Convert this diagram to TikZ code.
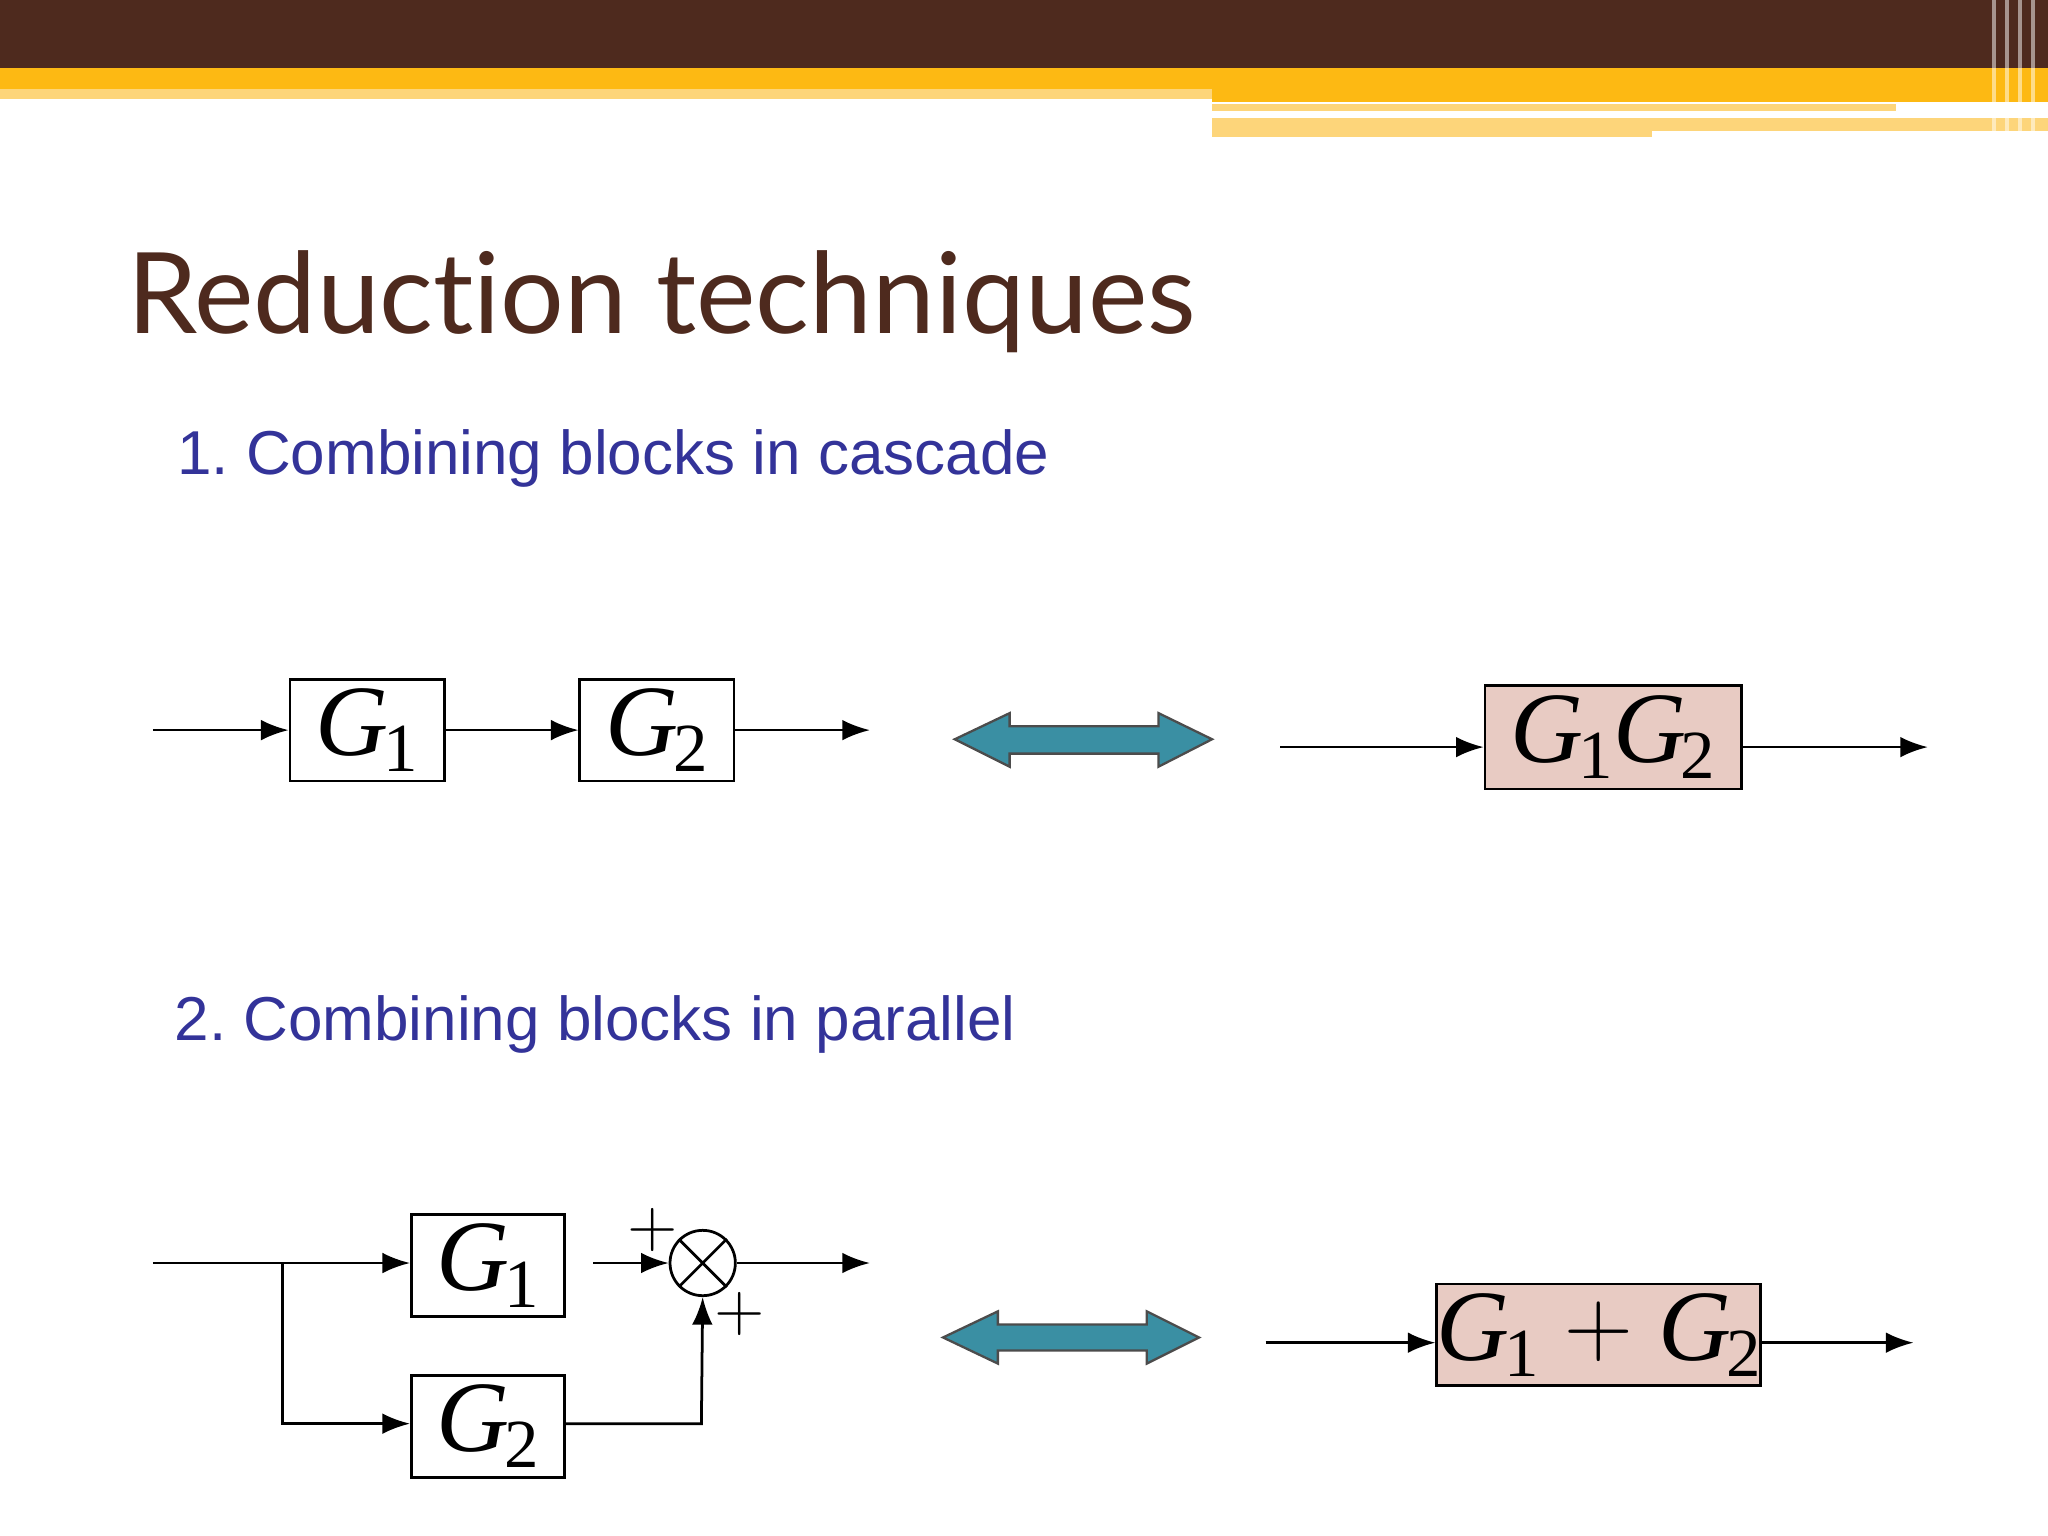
\documentclass[tikz,border=0pt]{standalone}
\usepackage{fontspec}
\newfontfamily\titlefont[Ligatures=NoCommon]{Lato}
\newfontfamily\subfont{Liberation Sans}
\newfontfamily\serfont{Liberation Serif}
\usetikzlibrary{arrows.meta}
\definecolor{brownbar}{HTML}{4E2A1E}
\definecolor{gold}{HTML}{FDB913}
\definecolor{lgold}{HTML}{FDD57A}
\definecolor{blu}{HTML}{333399}
\definecolor{teal}{HTML}{3A8FA3}
\definecolor{pinkfill}{HTML}{E8CBC3}
\newcommand{\Gs}[1]{\textit{G}\kern-0.05em\raisebox{-0.35ex}{\fontsize{15}{15}\selectfont #1}}
\tikzset{
 blk/.style={draw,line width=0.6pt,inner sep=0pt,font=\serfont\fontsize{22}{24}\selectfont},
 sig/.style={line width=0.6pt,-{Latex[length=6pt,width=4.5pt]}},
 wire/.style={line width=0.6pt},
 dblfill/.style={draw=black!70,fill=teal,line width=0.5pt},
 sub/.style={anchor=base west,inner sep=0pt,text=blu,font=\subfont\fontsize{13.5}{15}\selectfont}
}
\begin{document}
\begin{tikzpicture}[x=0.01cm,y=-0.01cm]
\useasboundingbox (0,0) rectangle (1568,1176);
% header
\fill[brownbar] (0,0) rectangle (1568,52);
\fill[gold] (0,52) rectangle (1568,68);
\fill[lgold] (0,68) rectangle (928,76);
\fill[gold] (928,68) rectangle (1568,78);
\fill[lgold] (928,90) rectangle (1265,105);
\fill[lgold] (928,80) rectangle (1452,85);
\fill[lgold] (1265,90) rectangle (1568,100);
\foreach \x in {1525,1535,1545,1555}{\fill[white,opacity=0.5] (\x,0) rectangle (\x+3,105);}
% title
\node[anchor=base west,inner sep=0pt,text=brownbar,font=\titlefont\fontsize{24.5}{28}\selectfont] (title) at (97,255) {Reduction techniques};
\node[sub] (s1) at (135,363) {1.\ Combining blocks in cascade};
\node[sub] (s2) at (133,797) {2.\ Combining blocks in parallel};
% cascade
\node[blk,minimum width=1.18cm,minimum height=0.78cm] (g1) at (281,559) {\Gs{1}};
\node[blk,minimum width=1.18cm,minimum height=0.78cm] (g2) at (503,559) {\Gs{2}};
\coordinate (in1) at (117,559); \coordinate (out1) at (666,559);
\draw[sig] (in1) -- (g1.west);
\draw[sig] (g1.east) -- (g2.west);
\draw[sig] (g2.east) -- (out1);
\filldraw[dblfill] (731,566) -- (773,546) -- (773,556) -- (887,556) -- (887,546) -- (928,566) -- (887,587) -- (887,577) -- (773,577) -- (773,587) -- cycle;
\node[blk,fill=pinkfill,minimum width=1.96cm,minimum height=0.79cm] (g12) at (1235,564.5) {\Gs{1}\Gs{2}};
\coordinate (in2) at (980,572); \coordinate (out2) at (1476,572);
\draw[sig] (in2) -- (in2-|g12.west);
\draw[sig] (out2-|g12.east) -- (out2);
% parallel
\node[blk,minimum width=1.17cm,minimum height=0.78cm] (p1) at (373.5,969) {\Gs{1}};
\node[blk,minimum width=1.17cm,minimum height=0.78cm] (p2) at (373.5,1092) {\Gs{2}};
\node[draw,circle,line width=0.6pt,minimum size=0.5cm,inner sep=0pt] (sum) at (538,967) {};
\draw[wire] (sum.north west) -- (sum.south east) (sum.north east) -- (sum.south west);
\coordinate (in3) at (117,967); \coordinate (br) at (216,967); \coordinate (br2) at (216,1090);
\coordinate (out3) at (666,967); \coordinate (c2) at (537,1090);
\draw[sig] (in3) -- (p1.west|-in3);
\draw[sig] (br) -- (br2) -- (p2.west|-br2);
\draw[sig] ([xshift=6pt]p1.east|-sum) -- (sum.west);
\draw[sig] (p2.east|-c2) -- (c2) -- (sum.south);
\draw[sig] (sum.east) -- (out3);
\node[font=\fontsize{14}{14}\selectfont] (pl1) at (500,942) {$+$};
\node[font=\fontsize{14}{14}\selectfont] (pl2) at (566,1006) {$+$};
\filldraw[dblfill] (722,1024) -- (764,1004) -- (764,1014) -- (878,1014) -- (878,1004) -- (918,1024) -- (878,1044) -- (878,1034) -- (764,1034) -- (764,1044) -- cycle;
\node[blk,fill=pinkfill,minimum width=1.96cm,minimum height=0.78cm] (gs) at (1224,1022) {\Gs{1} \raisebox{0.1ex}{$+$} \Gs{2}};
\coordinate (in4) at (969,1028); \coordinate (out4) at (1465,1028);
\draw[sig] (in4) -- (in4-|gs.west);
\draw[sig] (out4-|gs.east) -- (out4);
\end{tikzpicture}
\end{document}
